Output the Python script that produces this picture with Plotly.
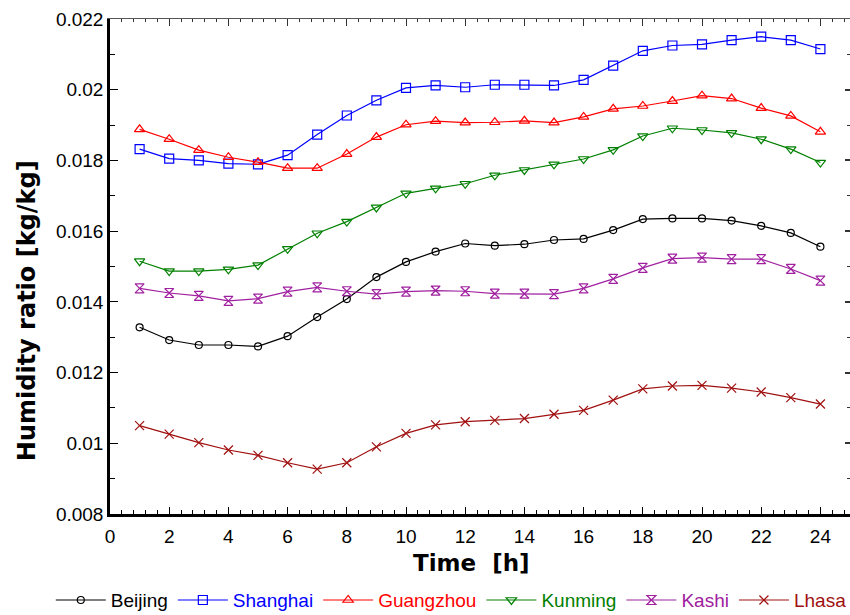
import plotly.graph_objects as go

# Hourly humidity ratio for six Chinese cities
hours = list(range(1, 25))

beijing = [0.01328, 0.01292, 0.01278, 0.01278, 0.01274, 0.01303, 0.01357, 0.01408,
           0.01470, 0.01513, 0.01542, 0.01565, 0.01559, 0.01563, 0.01575, 0.01578,
           0.01603, 0.01634, 0.01636, 0.01636, 0.01630, 0.01615, 0.01595, 0.01556]
shanghai = [0.01832, 0.01805, 0.01800, 0.01791, 0.01789, 0.01815, 0.01873, 0.01927,
            0.01970, 0.02005, 0.02012, 0.02007, 0.02014, 0.02014, 0.02012, 0.02028,
            0.02068, 0.02110, 0.02125, 0.02128, 0.02140, 0.02150, 0.02140, 0.02115]
guangzhou = [0.01888, 0.01860, 0.01829, 0.01809, 0.01795, 0.01778, 0.01778, 0.01818,
             0.01866, 0.01901, 0.01911, 0.01907, 0.01908, 0.01912, 0.01907, 0.01923,
             0.01946, 0.01954, 0.01968, 0.01983, 0.01975, 0.01948, 0.01926, 0.01881]
kunming = [0.01515, 0.01487, 0.01487, 0.01492, 0.01504, 0.01550, 0.01594, 0.01627,
           0.01667, 0.01707, 0.01721, 0.01734, 0.01758, 0.01773, 0.01789, 0.01804,
           0.01830, 0.01869, 0.01891, 0.01886, 0.01878, 0.01860, 0.01832, 0.01794]
kashi = [0.01438, 0.01425, 0.01417, 0.01403, 0.01409, 0.01429, 0.01441, 0.01430,
         0.01422, 0.01429, 0.01432, 0.01430, 0.01423, 0.01423, 0.01422, 0.01438,
         0.01465, 0.01496, 0.01522, 0.01525, 0.01521, 0.01521, 0.01493, 0.01460]
lhasa = [0.01050, 0.01026, 0.01002, 0.00981, 0.00966, 0.00945, 0.00927, 0.00945,
         0.00990, 0.01028, 0.01052, 0.01061, 0.01065, 0.01070, 0.01082, 0.01093,
         0.01122, 0.01154, 0.01162, 0.01164, 0.01156, 0.01145, 0.01129, 0.01111]

x_ticks = list(range(0, 25, 2))
x_ticktext = [str(v) for v in x_ticks]
y_ticks = [0.008, 0.010, 0.012, 0.014, 0.016, 0.018, 0.020, 0.022]
y_ticktext = ["0.008", "0.01", "0.012", "0.014", "0.016", "0.018", "0.02", "0.022"]

series = [
    ("Beijing", beijing, "#000000", "circle-open", 7),
    ("Shanghai", shanghai, "#0000ff", "square-open", 9),
    ("Guangzhou", guangzhou, "#ff0000", "triangle-up-open", 9),
    ("Kunming", kunming, "#008000", "triangle-down-open", 9),
    ("Kashi", kashi, "#a020a0", "hourglass-open", 9),
    ("Lhasa", lhasa, "#a01010", "x-thin-open", 9),
]

fig = go.Figure()
for name, vals, color, symbol, size in series:
    fig.add_trace(go.Scatter(
        x=hours, y=vals, mode="lines+markers",
        name=f"<span style='color:{color}'>{name}</span>",
        line=dict(color=color, width=1.2),
        marker=dict(symbol=symbol, size=size, color=color,
                    line=dict(color=color, width=1.2)),
    ))

# invisible trace so the mirrored top/right axes get drawn
fig.add_trace(go.Scatter(x=[None], y=[None], xaxis="x2", yaxis="y2",
                         showlegend=False, hoverinfo="skip"))

tick_font = dict(family="Liberation Sans, Arial, sans-serif", size=19, color="#000000")
title_font = dict(family="DejaVu Sans, sans-serif", size=24, color="#000000")

fig.update_layout(
    width=850, height=615,
    margin=dict(l=110, r=0, t=19, b=101, autoexpand=False),
    paper_bgcolor="white", plot_bgcolor="white",
    showlegend=True,
    legend=dict(orientation="h", x=-0.08, xanchor="left", y=-0.174, yanchor="middle",
                font=dict(family="Liberation Sans, Arial, sans-serif", size=19),
                itemwidth=50, tracegroupgap=0, bgcolor="rgba(0,0,0,0)"),
    xaxis=dict(range=[0, 25], tickvals=x_ticks, ticktext=x_ticktext,
               ticks="inside", ticklen=7, tickwidth=1.2, tickcolor="#000000",
               minor=dict(dtick=0.4, ticks="inside", ticklen=4, tickwidth=1, tickcolor="#000000"),
               showline=True, linecolor="#000000", linewidth=2.5,
               showgrid=False, zeroline=False, tickfont=tick_font,
               ticklabelstandoff=3, automargin=False),
    yaxis=dict(range=[0.008, 0.022], tickvals=y_ticks, ticktext=y_ticktext,
               ticks="inside", ticklen=8, tickwidth=1.2, tickcolor="#000000",
               minor=dict(dtick=0.001, ticks="inside", ticklen=5, tickwidth=1, tickcolor="#000000"),
               showline=True, linecolor="#000000", linewidth=2.5,
               showgrid=False, zeroline=False, tickfont=tick_font, automargin=False),
    xaxis2=dict(overlaying="x", side="top", range=[0, 25], tickvals=x_ticks,
                showticklabels=False, ticks="inside", ticklen=7, tickwidth=1, tickcolor="#333333",
                minor=dict(dtick=0.4, ticks="inside", ticklen=3, tickwidth=1, tickcolor="#333333"),
                showline=True, linecolor="#555555", linewidth=1,
                showgrid=False, zeroline=False),
    yaxis2=dict(overlaying="y", side="right", range=[0.008, 0.022], tickvals=y_ticks,
                showticklabels=False, ticks="inside", ticklen=5, tickwidth=1.5, tickcolor="#333333",
                minor=dict(dtick=0.001, ticks="inside", ticklen=3, tickwidth=1, tickcolor="#333333"),
                showline=False, showgrid=False, zeroline=False),
    annotations=[
        dict(text="<b>Time  [h]</b>", xref="paper", yref="paper", x=0.488, y=-0.098,
             xanchor="center", yanchor="middle", showarrow=False,
             font=dict(family="DejaVu Sans, sans-serif", size=23, color="#000000")),
        dict(text="<b>Humidity ratio [kg/kg]</b>", xref="paper", yref="paper",
             x=-0.112, y=0.41, xanchor="center", yanchor="middle", textangle=-90,
             showarrow=False, font=title_font),
    ],
)

fig.write_html("out.html")
